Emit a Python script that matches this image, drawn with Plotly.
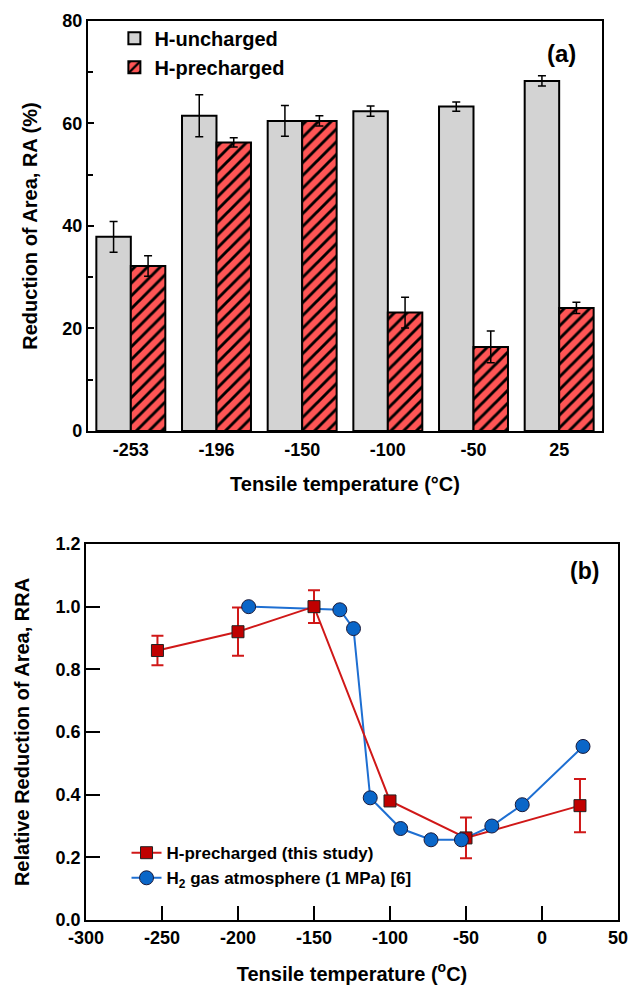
import plotly.graph_objects as go

# ---------------- data: panel (a) ----------------
temps_a = ["-253", "-196", "-150", "-100", "-50", "25"]
ra_uncharged = [37.9, 61.5, 60.5, 62.4, 63.3, 68.3]
ra_uncharged_err = [3.0, 4.1, 3.0, 1.0, 0.9, 1.0]
ra_precharged = [32.2, 56.3, 60.5, 23.1, 16.4, 24.0]
ra_precharged_err = [2.0, 0.9, 1.0, 3.0, 3.1, 1.1]

# ---------------- data: panel (b) ----------------
rra_pre_t = [-253, -200, -150, -100, -50, 25]
rra_pre = [0.86, 0.92, 1.0, 0.38, 0.262, 0.365]
rra_pre_err = [0.047, 0.077, 0.052, 0.0, 0.065, 0.085]
rra_gas_t = [-193, -133, -124, -113, -93, -73, -53, -33, -13, 27]
rra_gas = [1.0, 0.99, 0.93, 0.39, 0.292, 0.256, 0.256, 0.30, 0.368, 0.554]

x2_tickvals = [-300, -250, -200, -150, -100, -50, 0, 50]
x2_ticktext = ["-300", "-250", "-200", "-150", "-100", "-50", "0", "50"]

FONT = "Liberation Sans, Arial, sans-serif"
GRAY = "#D3D3D3"
RED_BAR = "#FF5555"
RED = "#C00000"
RED_LINE = "#D01818"
BLUE = "#0A66C8"
BLUE_LINE = "#1E6FD2"

fig = go.Figure()

fig.add_trace(go.Bar(
    x=temps_a, y=ra_uncharged, name="H-uncharged",
    marker=dict(color=GRAY, line=dict(color="black", width=2)),
    error_y=dict(type="data", array=ra_uncharged_err, color="black", thickness=1.5, width=4),
    xaxis="x", yaxis="y", legend="legend",
))
fig.add_trace(go.Bar(
    x=temps_a, y=ra_precharged, name="H-precharged",
    marker=dict(color=RED_BAR, line=dict(color="black", width=2),
                pattern=dict(shape="/", fillmode="replace", fgcolor="black",
                             bgcolor=RED_BAR, size=9, solidity=0.32)),
    error_y=dict(type="data", array=ra_precharged_err, color="black", thickness=1.5, width=4),
    xaxis="x", yaxis="y", legend="legend",
))

# panel (b): blue line underneath, red series, then blue markers on top
fig.add_trace(go.Scatter(
    x=rra_gas_t, y=rra_gas, mode="lines", line=dict(color=BLUE_LINE, width=2),
    showlegend=False, hoverinfo="skip", xaxis="x2", yaxis="y2",
))
fig.add_trace(go.Scatter(
    x=rra_pre_t, y=rra_pre, mode="lines+markers", name="H-precharged (this study)",
    line=dict(color=RED_LINE, width=2),
    marker=dict(symbol="square", size=12, color=RED, line=dict(color="#222", width=1)),
    error_y=dict(type="data", array=rra_pre_err, color=RED_LINE, thickness=2, width=6),
    xaxis="x2", yaxis="y2", legend="legend2",
))
fig.add_trace(go.Scatter(
    x=rra_gas_t, y=rra_gas, mode="markers",
    marker=dict(symbol="circle", size=14, color=BLUE, line=dict(color="#1a1a3a", width=1)),
    showlegend=False, xaxis="x2", yaxis="y2",
))
fig.add_trace(go.Scatter(
    x=[None], y=[None], mode="lines+markers", name="H<sub>2</sub> gas atmosphere (1 MPa) [6]",
    line=dict(color=BLUE_LINE, width=2),
    marker=dict(symbol="circle", size=14, color=BLUE, line=dict(color="#1a1a3a", width=1)),
    xaxis="x2", yaxis="y2", legend="legend2",
))

axis_common = dict(showline=True, mirror=True, linecolor="black", linewidth=2,
                   showgrid=False, zeroline=False, automargin=False,
                   tickfont=dict(family=FONT, size=18, color="black", weight="bold"))
title_font = dict(family=FONT, size=20, color="black", weight="bold")

fig.update_layout(
    width=639, height=986,
    margin=dict(l=0, r=0, t=0, b=0),
    paper_bgcolor="white", plot_bgcolor="white",
    barmode="group", bargap=0.195, bargroupgap=0,
    font=dict(family=FONT, color="black"),
    xaxis=dict(domain=[0.1377, 0.9421], anchor="y", type="category", ticks="",
               ticklabelstandoff=1,
               title=dict(text="Tensile temperature (°C)", font=title_font, standoff=18),
               **axis_common),
    yaxis=dict(domain=[0.5629, 0.9787], anchor="x", range=[0, 80], dtick=20,
               ticks="inside", ticklen=6, tickwidth=2, tickcolor="black",
               minor=dict(dtick=10, ticks="inside", ticklen=5, tickwidth=2, tickcolor="black"),
               title=dict(text="Reduction of Area, RA (%)", font=title_font, standoff=19),
               **axis_common),
    xaxis2=dict(domain=[0.1346, 0.9671], anchor="y2", range=[-300, 50],
                tickvals=x2_tickvals, ticktext=x2_ticktext,
                ticks="inside", ticklen=14, tickwidth=2, tickcolor="black",
                title=dict(text="Tensile temperature (<sup>o</sup>C)", font=title_font, standoff=20),
                **axis_common),
    yaxis2=dict(domain=[0.0669, 0.4483], anchor="x2", range=[0, 1.2], dtick=0.2,
                tickformat=".1f", ticks="inside", ticklen=14, tickwidth=2, tickcolor="black",
                title=dict(text="Relative Reduction of Area, RRA", font=title_font, standoff=20),
                **axis_common),
    legend=dict(x=0.179, y=0.981, xanchor="left", yanchor="top",
                bgcolor="rgba(0,0,0,0)", borderwidth=0, tracegroupgap=0,
                font=dict(family=FONT, size=20, color="black", weight="bold")),
    legend2=dict(x=0.198, y=0.153, xanchor="left", yanchor="top",
                 bgcolor="rgba(0,0,0,0)", borderwidth=0,
                 font=dict(family=FONT, size=17, color="black", weight="bold")),
    annotations=[
        dict(text="(a)", x=561 / 639, y=1 - 54 / 986, xref="paper", yref="paper",
             xanchor="center", yanchor="middle", showarrow=False,
             font=dict(family=FONT, size=24, color="black", weight="bold")),
        dict(text="(b)", x=584 / 639, y=1 - 571 / 986, xref="paper", yref="paper",
             xanchor="center", yanchor="middle", showarrow=False,
             font=dict(family=FONT, size=23, color="black", weight="bold")),
    ],
)

fig.write_html(
    "out.html",
    config={"displayModeBar": False},
    post_script="document.body.style.margin='0';document.body.style.padding='0';"
                "document.body.style.overflow='hidden';",
)
